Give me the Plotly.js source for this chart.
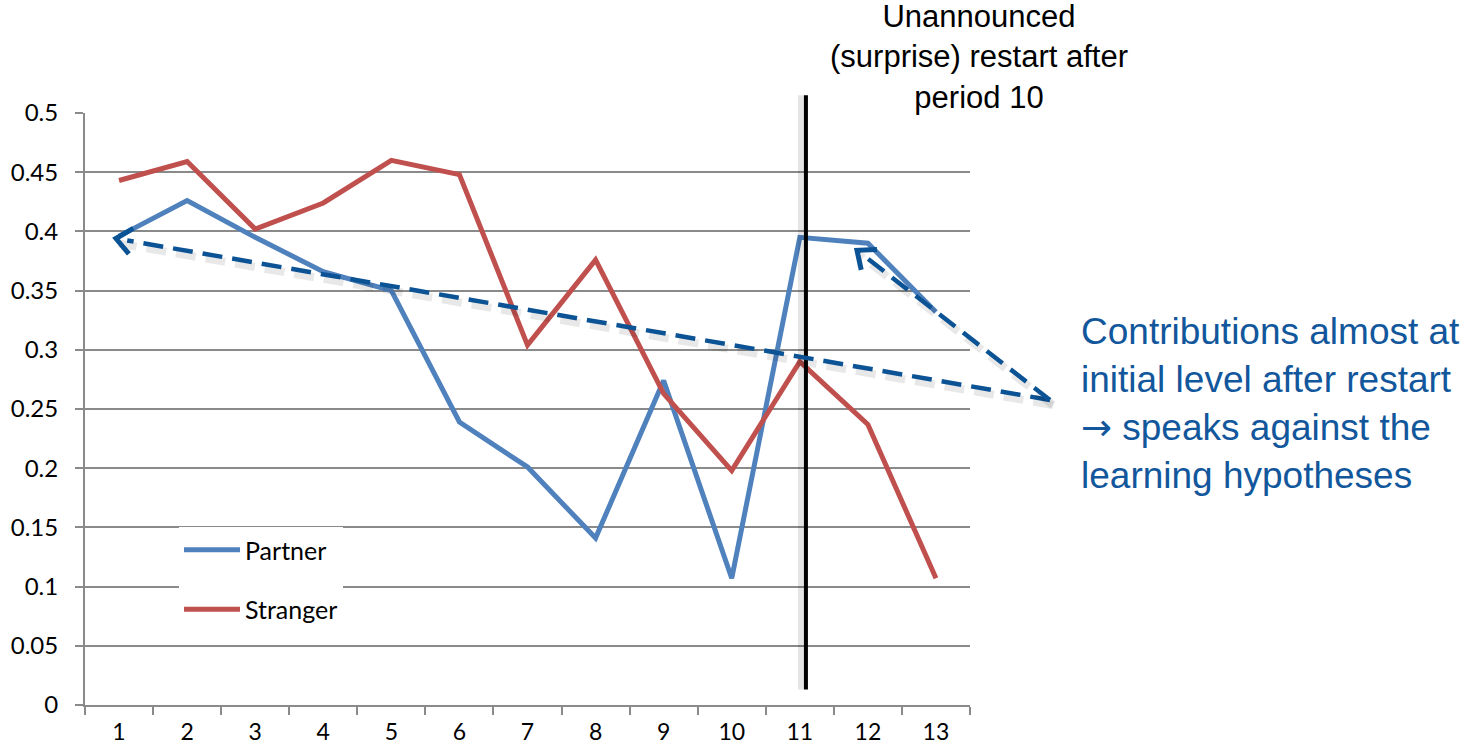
<!DOCTYPE html>
<html>
<head>
<meta charset="utf-8">
<script src="https://cdn.plot.ly/plotly-3.0.1.min.js"></script>
<style>html,body{margin:0;padding:0;background:#fff;}#chart{width:1478px;height:748px;}</style>
</head>
<body>
<div id="chart"></div>
<script>
// ---- data ----
const periods = ['1','2','3','4','5','6','7','8','9','10','11','12','13'];
const partner = [0.396, 0.426, 0.395, 0.366, 0.350, 0.239, 0.201, 0.141, 0.274, 0.107, 0.395, 0.390, 0.332];
const stranger = [0.443, 0.459, 0.402, 0.424, 0.460, 0.448, 0.304, 0.376, 0.263, 0.198, 0.290, 0.237, 0.107];
const seriesNames = ['Partner', 'Stranger'];
const yTicks = [0, 0.05, 0.1, 0.15, 0.2, 0.25, 0.3, 0.35, 0.4, 0.45, 0.5];
const restartText = 'Unannounced<br>(surprise) restart after<br>period 10';
const noteText = 'Contributions almost at<br>initial level after restart<br><span style="font-family:DejaVu Sans">\u2192</span> speaks against the<br>learning hypotheses';

// ---- geometry ----
const W = 1478, H = 748;
const L = 85, R = 970, T = 113, B = 705;
const yMax = 0.5;
const n = periods.length;
// category index / value -> paper coords
const px = i => (i + 0.5) / n;
const py = v => v / yMax;
// paper -> pixel and back
const toPix = (x, y) => [L + x * (R - L), B - y * (B - T)];
const toPaper = (X, Y) => [(X - L) / (R - L), (B - Y) / (B - T)];

const grid = '#8a8a8a';
const arrowCol = '#0b5394';

const traces = [
  {x: periods, y: partner, name: seriesNames[0], type: 'scatter', mode: 'lines',
   line: {color: '#4f81bd', width: 5}, legendgroup: 'a'},
  {x: periods, y: stranger, name: seriesNames[1], type: 'scatter', mode: 'lines',
   line: {color: '#c0504d', width: 5}, legendgroup: 'b'}
];

const shapes = [];
const annotations = [];

// vertical restart line (between period 10 and 11)
const vx = px(10.09);
shapes.push({type: 'line', xref: 'paper', yref: 'paper', x0: vx - 4/(R-L), x1: vx - 4/(R-L),
  y0: py(0.013), y1: py(0.515), line: {color: 'rgba(0,0,0,0.10)', width: 8}});
shapes.push({type: 'line', xref: 'paper', yref: 'paper', x0: vx, x1: vx,
  y0: py(0.013), y1: py(0.515), line: {color: '#000', width: 4}});

// dashed arrows: shared tail and tips in category-index / value units
const tail = [13.675, 0.2576];
const tips = [[-0.045, 0.394], [10.84, 0.384]];
const [tX, tY] = toPix(px(tail[0]), py(tail[1]));
tips.forEach(tp => {
  const [hX, hY] = toPix(px(tp[0]), py(tp[1]));
  const s1 = toPaper(tX + 3, tY + 5), s2 = toPaper(hX + 3, hY + 5);
  shapes.push({type: 'line', xref: 'paper', yref: 'paper', x0: s1[0], y0: s1[1], x1: s2[0], y1: s2[1],
    line: {color: 'rgba(0,0,0,0.09)', width: 8, dash: '20px,10px'}});
  const p1 = toPaper(tX, tY), p2 = toPaper(hX + (tX-hX)*0.012, hY + (tY-hY)*0.012);
  shapes.push({type: 'line', xref: 'paper', yref: 'paper', x0: p1[0], y0: p1[1], x1: p2[0], y1: p2[1],
    line: {color: arrowCol, width: 4.5, dash: '20px,10px'}});
  const dx = tX - hX, dy = tY - hY, len = Math.hypot(dx, dy);
  const ux = dx / len, uy = dy / len;
  const ang = 40 * Math.PI / 180, al = 20;
  const a1 = [hX + al * (ux * Math.cos(ang) - uy * Math.sin(ang)), hY + al * (ux * Math.sin(ang) + uy * Math.cos(ang))];
  const a2 = [hX + al * (ux * Math.cos(-ang) - uy * Math.sin(-ang)), hY + al * (ux * Math.sin(-ang) + uy * Math.cos(-ang))];
  const q1 = toPaper(a1[0], a1[1]), q0 = toPaper(hX, hY), q2 = toPaper(a2[0], a2[1]);
  shapes.push({type: 'path', xref: 'paper', yref: 'paper',
    path: `M${q1[0]},${q1[1]} L${q0[0]},${q0[1]} L${q2[0]},${q2[1]}`,
    line: {color: arrowCol, width: 5}});
});

// texts
const tp1 = toPaper(979, 57);
annotations.push({xref: 'paper', yref: 'paper', x: tp1[0], y: tp1[1], xanchor: 'center', yanchor: 'middle',
  text: restartText, showarrow: false, align: 'center',
  font: {family: 'Liberation Sans, Arial, sans-serif', size: 31, color: '#000'}});
const tp2 = toPaper(1079, 403);
annotations.push({xref: 'paper', yref: 'paper', x: tp2[0], y: tp2[1], xanchor: 'left', yanchor: 'middle',
  text: noteText, showarrow: false, align: 'left',
  font: {family: 'Liberation Sans, Arial, sans-serif', size: 37, color: '#12579c'}});

const legPos = toPaper(179, 527);

const layout = {
  width: W, height: H,
  margin: {l: L, r: W - R, t: T, b: H - B, pad: 0},
  paper_bgcolor: '#fff', plot_bgcolor: '#fff',
  font: {family: 'Lato, Carlito, Calibri, sans-serif', size: 24, color: '#000'},
  xaxis: {type: 'category', range: [-0.5, n - 0.5], tickson: 'boundaries', ticks: 'outside',
    ticklen: 8, tickwidth: 2, tickcolor: grid, showline: true, linecolor: grid, linewidth: 2,
    showgrid: false, zeroline: false, ticklabelstandoff: 5, tickfont: {size: 23}, fixedrange: true},
  yaxis: {range: [0, yMax], tickvals: yTicks, ticktext: yTicks.map(String), ticks: 'outside',
    ticklen: 8, tickwidth: 2, tickcolor: grid, showline: true, linecolor: grid, linewidth: 2,
    showgrid: true, gridcolor: grid, gridwidth: 2, zeroline: false, ticklabelstandoff: 12, fixedrange: true},
  showlegend: true,
  legend: {x: legPos[0], y: legPos[1], xanchor: 'left', yanchor: 'top', bgcolor: '#fff',
    borderwidth: 0, tracegroupgap: 24, font: {size: 25}, traceorder: 'grouped', itemwidth: 56},
  shapes: shapes,
  annotations: annotations
};

Plotly.newPlot('chart', traces, layout, {displayModeBar: false, staticPlot: true});
</script>
</body>
</html>
